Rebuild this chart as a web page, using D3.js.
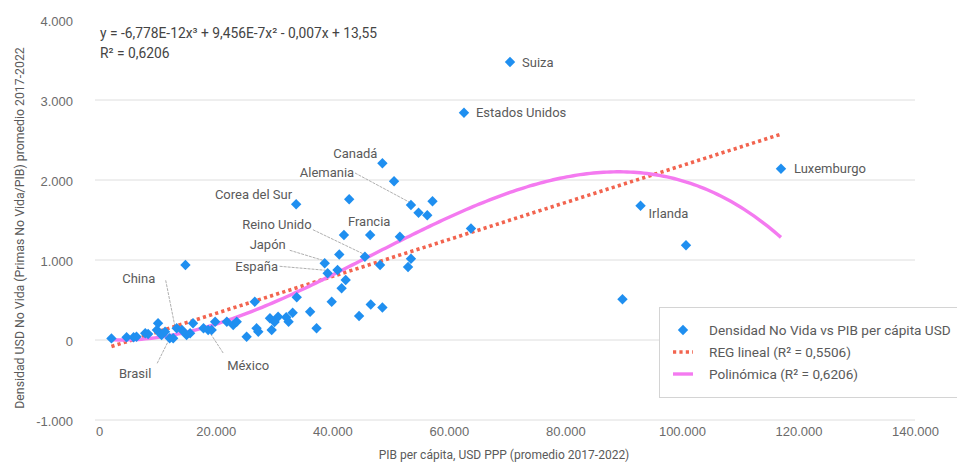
<!DOCTYPE html>
<html lang="es">
<head>
<meta charset="utf-8">
<script src="https://cdn.jsdelivr.net/npm/d3@7"></script>
<style>
  html, body { margin: 0; padding: 0; background: #ffffff; }
  svg { display: block; font-family: Roboto, "Noto Sans", sans-serif; }
</style>
</head>
<body>
<svg id="chart" width="957" height="462"></svg>
<script>
// PIB per cápita (USD PPP, promedio 2017-2022) por país
const gdpPerCapita = [
  2100, 4700, 5900, 6400, 7900, 8400, 9900, 10100, 10700, 11300,
  12100, 12700, 13300, 14200, 15000, 15600, 16100, 17900, 18700, 19300,
  19900, 21900, 23000, 23600, 25300, 26700, 27000, 27300, 29300, 29600,
  30100, 30700, 32100, 32500, 33200, 33900, 36200, 37300, 39900, 38700,
  39200, 41200, 40900, 42300, 41600, 14800, 44600, 46600, 48600, 45600,
  48200, 53000, 53500, 42000, 46500, 51600, 33800, 42900, 48600, 50600,
  53500, 57200, 54800, 56300, 63800, 62600, 70500, 117000, 92900, 100700,
  89800
];

// Densidad de primas No Vida (USD per cápita)
const nonLifeDensity = [
  20, 34, 34, 41, 84, 75, 125, 209, 62, 104,
  21, 21, 146, 125, 62, 84, 209, 146, 125, 125,
  229, 229, 188, 229, 41, 479, 146, 104, 271, 125,
  225, 291, 284, 229, 341, 534, 354, 146, 479, 959,
  834, 1069, 875, 750, 646, 938, 300, 444, 406, 1041,
  938, 913, 1016, 1313, 1313, 1291, 1696, 1759, 2209, 1984,
  1688, 1734, 1591, 1559, 1394, 2841, 3475, 2141, 1679, 1184,
  509
];

// Países rotulados: índice del punto y colocación de la etiqueta
const countryLabels = [
  { name: "Suiza",          i: 66, dx: 12,  dy: 0,   anchor: "start" },
  { name: "Estados Unidos", i: 65, dx: 12,  dy: 0,   anchor: "start" },
  { name: "Luxemburgo",     i: 67, dx: 13,  dy: 0,   anchor: "start" },
  { name: "Irlanda",        i: 68, dx: 8,   dy: 8,   anchor: "start" },
  { name: "Corea del Sur",  i: 56, dx: -4,  dy: -10, anchor: "end" },
  { name: "Canadá",         i: 58, dx: -5,  dy: -10, anchor: "end" },
  { name: "Francia",        i: 54, dx: -1,  dy: -14, anchor: "middle" },
  { name: "Alemania",       i: 60, dx: -84, dy: -33, anchor: "middle", lx: -56, ly: -32 },
  { name: "Reino Unido",    i: 49, dx: -88, dy: -32, anchor: "middle", lx: -52, ly: -27 },
  { name: "Japón",          i: 39, dx: -57, dy: -19, anchor: "middle", lx: -35, ly: -13 },
  { name: "España",         i: 40, dx: -71, dy: -7,  anchor: "middle", lx: -48, ly: -7 },
  { name: "China",          i: 12, dx: -38, dy: -50, anchor: "middle", lx: -11, ly: -48 },
  { name: "Brasil",         i: 11, dx: -38, dy: 35,  anchor: "middle", lx: -16, ly: 25 },
  { name: "México",         i: 18, dx: 40,  dy: 35,  anchor: "middle", lx: 15, ly: 23 }
];

const xTicks = [0, 20000, 40000, 60000, 80000, 100000, 120000, 140000];
const yTicks = [-1000, 0, 1000, 2000, 3000, 4000];

// Ajustes de tendencia
const polyCoef = [13.55, -0.007, 9.456e-7, -6.778e-12];   // c0 + c1 x + c2 x² + c3 x³
const linearCoef = [-130, 0.0231];                          // c0 + c1 x

const equationText = "y = -6,778E-12x³ + 9,456E-7x² - 0,007x + 13,55";
const r2Text = "R² = 0,6206";
const legendItems = [
  "Densidad No Vida vs PIB per cápita USD",
  "REG lineal (R² = 0,5506)",
  "Polinómica (R² = 0,6206)"
];
const xTitle = "PIB per cápita, USD PPP (promedio 2017-2022)";
const yTitle = "Densidad USD No Vida (Primas No Vida/PIB) promedio 2017-2022";

const esLocale = d3.formatLocale({ decimal: ",", thousands: ".", grouping: [3], currency: ["", " €"], minus: "-" });
const fmt = esLocale.format(",d");

const BLUE = "#1f8ff0";
const PINK = "#f47af0";
const RED = "#f2644f";
const TEXT = "#5a5a5a";

const svg = d3.select("#chart");
const x = d3.scaleLinear().domain([0, 140000]).range([99.2, 915]);
const y = d3.scaleLinear().domain([-1000, 4000]).range([420, 20]);
const gridLeft = 95, gridRight = 915;

// Líneas de cuadrícula horizontales
svg.append("g").selectAll("line")
  .data(yTicks.filter(t => t < 4000))
  .join("line")
  .attr("x1", gridLeft).attr("x2", gridRight)
  .attr("y1", d => y(d)).attr("y2", d => y(d))
  .attr("stroke", "#dedede").attr("stroke-width", 1);

// Ejes (solo etiquetas)
const xAxis = svg.append("g")
  .attr("transform", `translate(0,${y(-1000)})`)
  .call(d3.axisBottom(x).tickValues(xTicks).tickFormat(fmt).tickSize(0).tickPadding(7));
xAxis.select(".domain").remove();
xAxis.selectAll("text").attr("fill", "#6b6b6b").style("font-size", "13px");

const yAxis = svg.append("g")
  .attr("transform", `translate(${gridLeft},0)`)
  .call(d3.axisLeft(y).tickValues(yTicks).tickFormat(fmt).tickSize(0).tickPadding(22));
yAxis.select(".domain").remove();
yAxis.selectAll("text").attr("fill", "#6b6b6b").attr("dy", "0.42em").style("font-size", "13px");

// Títulos de ejes
svg.append("text")
  .attr("x", 504).attr("y", 459)
  .attr("text-anchor", "middle").attr("fill", TEXT)
  .style("font-size", "12px").text(xTitle);

svg.append("text")
  .attr("transform", "translate(24,228) rotate(-90)")
  .attr("text-anchor", "middle").attr("fill", TEXT)
  .style("font-size", "12.3px").text(yTitle);

// Ecuación del ajuste polinómico
svg.append("text").attr("x", 100).attr("y", 38).attr("fill", "#444")
  .style("font-size", "13.8px").text(equationText);
svg.append("text").attr("x", 100).attr("y", 58).attr("fill", "#444")
  .style("font-size", "13.8px").text(r2Text);

const points = gdpPerCapita.map((g, i) => ({ gx: g, dy: nonLifeDensity[i] }));
const xMin = d3.min(gdpPerCapita), xMax = d3.max(gdpPerCapita);

// Rótulos y líneas guía
const labG = svg.append("g");
countryLabels.forEach(l => {
  const p = points[l.i];
  const px = x(p.gx), py = y(p.dy);
  if (l.lx !== undefined) {
    labG.append("line")
      .attr("x1", px + l.lx).attr("y1", py + l.ly)
      .attr("x2", px - 2).attr("y2", py - 3)
      .attr("stroke", "#9a9a9a").attr("stroke-width", 0.8)
      .attr("stroke-dasharray", "3,1");
  }
  labG.append("text")
    .attr("x", px + l.dx).attr("y", py + l.dy)
    .attr("dy", "0.35em")
    .attr("text-anchor", l.anchor)
    .attr("fill", TEXT)
    .style("font-size", "13px")
    .text(l.name);
});

// Tendencia lineal
const lineGen = d3.line().x(d => x(d[0])).y(d => y(d[1]));
svg.append("path")
  .datum([xMin, xMax].map(v => [v, linearCoef[0] + linearCoef[1] * v]))
  .attr("d", lineGen)
  .attr("fill", "none").attr("stroke", RED)
  .attr("stroke-width", 3.6).attr("stroke-dasharray", "3.2,3.2");

// Tendencia polinómica
const poly = v => polyCoef[0] + polyCoef[1] * v + polyCoef[2] * v * v + polyCoef[3] * v * v * v;
const polyPts = d3.range(0, 201).map(k => {
  const v = xMin + (xMax - xMin) * k / 200;
  return [v, poly(v)];
});
svg.append("path")
  .datum(polyPts)
  .attr("d", lineGen)
  .attr("fill", "none").attr("stroke", PINK)
  .attr("stroke-width", 3.4);

// Puntos (rombos)
const diamond = (cx, cy, r) => `M${cx},${cy - r}L${cx + r},${cy}L${cx},${cy + r}L${cx - r},${cy}Z`;
svg.append("g").selectAll("path")
  .data(points)
  .join("path")
  .attr("d", d => diamond(x(d.gx), y(d.dy), 5.2))
  .attr("fill", BLUE);

// Leyenda
const lg = svg.append("g");
lg.append("rect")
  .attr("x", 659.5).attr("y", 307.5).attr("width", 310).attr("height", 90)
  .attr("fill", "#ffffff").attr("stroke", "#d4d4d4");
const ly0 = 330, lstep = 22;
lg.append("path").attr("d", diamond(683, ly0, 5.2)).attr("fill", BLUE);
lg.append("line").attr("x1", 673).attr("x2", 693).attr("y1", ly0 + lstep).attr("y2", ly0 + lstep)
  .attr("stroke", RED).attr("stroke-width", 3.4).attr("stroke-dasharray", "3.2,3.2");
lg.append("line").attr("x1", 673).attr("x2", 693).attr("y1", ly0 + 2 * lstep).attr("y2", ly0 + 2 * lstep)
  .attr("stroke", PINK).attr("stroke-width", 3.4);
lg.selectAll("text.item")
  .data(legendItems)
  .join("text")
  .attr("class", "item")
  .attr("x", 709).attr("y", (d, i) => ly0 + i * lstep)
  .attr("dy", "0.35em")
  .attr("fill", TEXT)
  .style("font-size", "13.6px")
  .text(d => d);
</script>
</body>
</html>
